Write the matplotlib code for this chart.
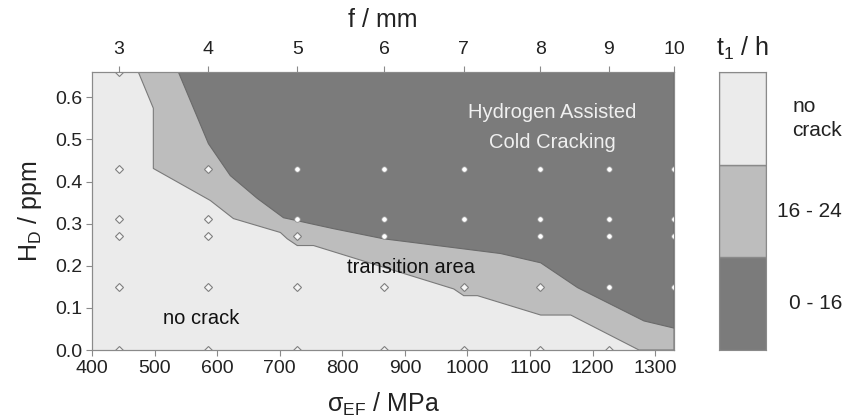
import numpy as np
import matplotlib.pyplot as plt

plt.rcParams['font.family'] = ['Liberation Sans', 'DejaVu Sans']
plt.rcParams['mathtext.default'] = 'regular'

# tested specimens: sigma_EF (MPa) columns and matching f (mm)
sigma_cols = [443, 585, 728, 867, 994, 1116, 1226, 1330]
f_labels = ['3', '4', '5', '6', '7', '8', '9', '10']

# boundary no crack / transition (sigma, H_D)
low_x = [474, 498, 498, 589, 626, 701, 712, 728, 754, 978, 994, 1016, 1117, 1165, 1274]
low_y = [0.66, 0.574, 0.431, 0.355, 0.312, 0.279, 0.264, 0.248, 0.248, 0.145, 0.129, 0.129, 0.083, 0.083, 0.0]

# boundary transition / cracking
up_x = [538, 586, 621, 664, 706, 728, 749, 786, 866, 1053, 1117, 1176, 1282, 1330]
up_y = [0.66, 0.49, 0.414, 0.36, 0.314, 0.307, 0.30, 0.288, 0.264, 0.229, 0.207, 0.148, 0.069, 0.052]

# specimens without crack (diamonds) and cracked (dots)
ok_x = [443, 443, 443, 443, 443, 443, 585, 585, 585, 585, 585, 728, 728, 728, 867, 867, 994, 994, 1116, 1116, 1226]
ok_y = [0.0, 0.15, 0.27, 0.31, 0.43, 0.66, 0.0, 0.15, 0.27, 0.31, 0.43, 0.0, 0.15, 0.27, 0.0, 0.15, 0.0, 0.15, 0.0, 0.15, 0.0]
cr_x = [728, 728, 867, 867, 867, 994, 994, 1116, 1116, 1116, 1226, 1226, 1226, 1226, 1330, 1330, 1330, 1330]
cr_y = [0.31, 0.43, 0.27, 0.31, 0.43, 0.31, 0.43, 0.27, 0.31, 0.43, 0.15, 0.27, 0.31, 0.43, 0.15, 0.27, 0.31, 0.43]

legend_labels = ['0 - 16', '16 - 24', 'no\ncrack']
c_light, c_mid, c_dark = '#ebebeb', '#bdbdbd', '#7b7b7b'
legend_colors = [c_dark, c_mid, c_light]
edge = '#8a8a8a'

xmin, xmax, ymin, ymax = 400, 1330, 0.0, 0.66

fig = plt.figure(figsize=(8.46, 4.19), dpi=100)
ax = fig.add_axes([92 / 846, 1 - 350 / 419, (674 - 92) / 846, (350 - 72) / 419])
ax.set_facecolor(c_light)

# transition area
px = low_x + [xmax, xmax]
py = low_y + [ymin, ymax]
ax.fill(px, py, color=c_mid, ec='#7a7a7a', lw=0.8, zorder=1)
# cracking area
px = up_x + [xmax]
py = up_y + [ymax]
ax.fill(px, py, color=c_dark, ec='#6a6a6a', lw=0.8, zorder=2)

ax.plot(ok_x, ok_y, 'D', ms=4, mfc='#f5f5f5', mec='#808080', mew=0.8, ls='none', zorder=3)
ax.plot(cr_x, cr_y, 'o', ms=4, mfc='white', mec='#909090', mew=0.6, ls='none', zorder=3)

ax.text(1136, 0.564, 'Hydrogen Assisted', color='#f0f0f0', fontsize=14.5, ha='center', va='center')
ax.text(1136, 0.493, 'Cold Cracking', color='#f0f0f0', fontsize=14.5, ha='center', va='center')
ax.text(910, 0.195, 'transition area', color='#111111', fontsize=14.5, ha='center', va='center')
ax.text(574, 0.074, 'no crack', color='#111111', fontsize=14.5, ha='center', va='center')

ax.set_xlim(xmin, xmax)
ax.set_ylim(ymin, ymax)
ax.set_xticks(np.arange(400, 1301, 100))
ax.set_yticks(np.arange(0, 0.61, 0.1))
ax.set_yticklabels([f'{v:.1f}' for v in np.arange(0, 0.61, 0.1)])
ax.tick_params(labelsize=14, colors='#8a8a8a', labelcolor='#222222', length=4, pad=3)
for s in ax.spines.values():
    s.set_color(edge)
ax.set_xlabel('σ$_{EF}$ / MPa', fontsize=18, color='#222222', labelpad=10)
ax.set_ylabel('H$_{D}$ / ppm', fontsize=18, color='#222222', labelpad=8)

top = ax.twiny()
top.set_xlim(xmin, xmax)
top.set_xticks(sigma_cols)
top.set_xticklabels(f_labels)
top.tick_params(labelsize=14, colors='#8a8a8a', labelcolor='#222222', length=4, pad=6)
for s in top.spines.values():
    s.set_color(edge)
top.set_xlabel('f / mm', fontsize=18, color='#222222', labelpad=10)

# legend bar
cax = fig.add_axes([719 / 846, 1 - 350 / 419, (766 - 719) / 846, (350 - 72) / 419])
for i, (lab, col) in enumerate(zip(legend_labels, legend_colors)):
    cax.axhspan(i, i + 1, color=col, ec='#8a8a8a', lw=1)
    cax.text(842 / 846, i + 0.5, lab, transform=cax.get_yaxis_transform().__class__(fig.transFigure, cax.transData),
             fontsize=15, color='#222222', ha='right', va='center', multialignment='left', linespacing=1.3)
cax.set_ylim(0, 3)
cax.set_xlim(0, 1)
cax.set_xticks([])
cax.set_yticks([])
for s in cax.spines.values():
    s.set_color(edge)
cax.set_title('t$_1$ / h', fontsize=18, color='#222222', pad=12)

fig.savefig('out.png', dpi=100)
